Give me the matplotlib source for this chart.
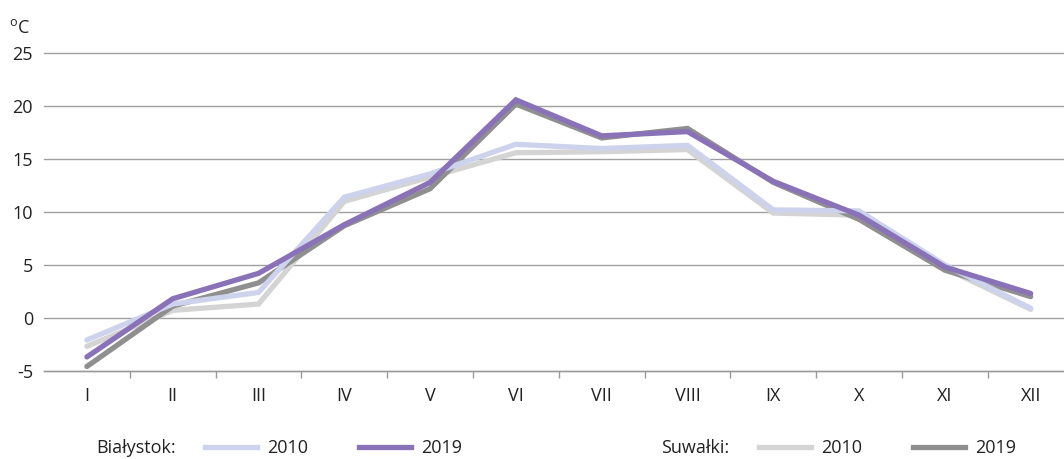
import matplotlib
matplotlib.use("Agg")
import matplotlib.pyplot as plt
from matplotlib.lines import Line2D

plt.rcParams['font.family'] = ['Open Sans', 'DejaVu Sans']

months = ["I", "II", "III", "IV", "V", "VI", "VII", "VIII", "IX", "X", "XI", "XII"]
bialystok_2010 = [-2.1, 1.3, 2.4, 11.4, 13.6, 16.4, 16.0, 16.3, 10.2, 10.1, 5.0, 0.9]
bialystok_2019 = [-3.7, 1.8, 4.2, 8.8, 12.8, 20.6, 17.2, 17.6, 12.9, 9.7, 4.8, 2.3]
suwalki_2010 = [-2.7, 0.7, 1.3, 11.0, 13.3, 15.6, 15.7, 15.9, 9.9, 9.7, 4.7, 0.8]
suwalki_2019 = [-4.6, 1.1, 3.3, 8.7, 12.2, 20.2, 17.0, 17.9, 12.8, 9.3, 4.5, 2.0]
yticks = [-5, 0, 5, 10, 15, 20, 25]

W, H = 1064, 459
fig = plt.figure(figsize=(W / 100, H / 100), dpi=100)
left_px, right_px = 44, 1073.6
top_px, bottom_px = 53.3, 370.7
ax = fig.add_axes([left_px / W, (H - bottom_px) / H,
                   (right_px - left_px) / W, (bottom_px - top_px) / H])

c_b10 = "#cdd3ec"
c_b19 = "#8a72b8"
c_s10 = "#d4d4d4"
c_s19 = "#8f8f8f"
lw = 3.8
txt = "#222222"
fs = 13

x = list(range(len(months)))
ax.plot(x, suwalki_2010, color=c_s10, lw=lw, solid_capstyle='round', solid_joinstyle='miter', zorder=3)
ax.plot(x, suwalki_2019, color=c_s19, lw=lw, solid_capstyle='round', solid_joinstyle='miter', zorder=3)
ax.plot(x, bialystok_2010, color=c_b10, lw=lw, solid_capstyle='round', solid_joinstyle='miter', zorder=4)
ax.plot(x, bialystok_2019, color=c_b19, lw=lw, solid_capstyle='round', solid_joinstyle='miter', zorder=4)

ax.set_xlim(-0.5, 11.5)
ax.set_ylim(-5, 25)
ax.set_yticks(yticks)
ax.set_yticklabels([str(v) for v in yticks])
ax.set_xticks(x)
ax.set_xticklabels(months)
ax.set_xticks([i - 0.5 for i in range(1, 13)], minor=True)

for s in ["top", "right", "left"]:
    ax.spines[s].set_visible(False)
ax.spines["bottom"].set_color("#9a9a9a")
ax.spines["bottom"].set_linewidth(1.0)

ax.grid(axis='y', color="#a0a0a0", lw=1.0, zorder=1)
for gl in ax.get_ygridlines():
    gl.set_clip_on(False)
ax.set_axisbelow(True)

ax.tick_params(axis='y', length=0, pad=8, labelsize=fs, labelcolor=txt)
ax.tick_params(axis='x', which='major', length=0, pad=12, labelsize=fs, labelcolor=txt)
ax.tick_params(axis='x', which='minor', length=5, width=1.0, color="#9a9a9a", direction='out')

fig.text(9 / W, 1 - 28 / H, r"$^\mathregular{o}$C", fontsize=fs, color=txt, va='center', ha='left')

fig.text(96 / W, 11 / H, "Białystok:", fontsize=fs, color=txt, va='center', ha='left')
fig.text(661 / W, 11 / H, "Suwałki:", fontsize=fs, color=txt, va='center', ha='left')

h1 = [Line2D([], [], color=c_b10, lw=lw), Line2D([], [], color=c_b19, lw=lw)]
h2 = [Line2D([], [], color=c_s10, lw=lw), Line2D([], [], color=c_s19, lw=lw)]
leg_kw = dict(ncol=2, frameon=False, fontsize=fs, handlelength=2.9, handletextpad=0.55,
              columnspacing=2.8, borderpad=0, borderaxespad=0, loc='center left')
l1 = fig.legend(h1, ["2010", "2019"], bbox_to_anchor=(205 / W, 11 / H), **leg_kw)
l2 = fig.legend(h2, ["2010", "2019"], bbox_to_anchor=(759 / W, 11 / H), **leg_kw)
for l in (l1, l2):
    for t in l.get_texts():
        t.set_color(txt)

fig.savefig("out.png", dpi=100)
